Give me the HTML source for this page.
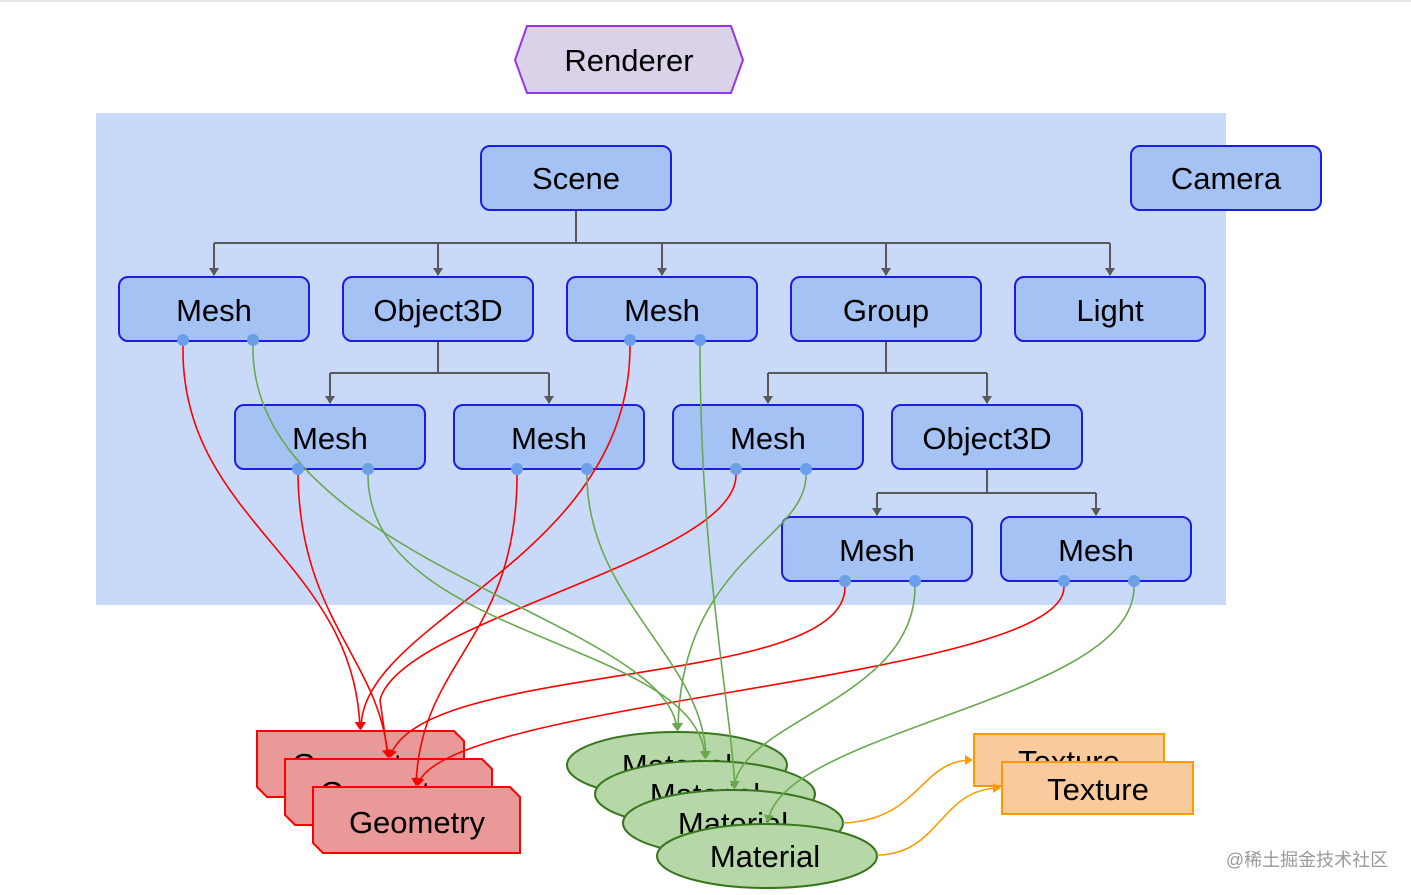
<!DOCTYPE html>
<html><head><meta charset="utf-8"><style>
html,body{margin:0;padding:0;background:#fff;}
svg{display:block;}
text{font-family:"Liberation Sans",Arial,sans-serif;font-size:31px;fill:#000;text-anchor:middle;}
.n{fill:#a4c2f4;stroke:#1c1ce6;stroke-width:2;}
.g{fill:none;stroke:#595959;stroke-width:2;}
.r{fill:none;stroke:#f00;stroke-width:1.6;}
.gr{fill:none;stroke:#6aa84f;stroke-width:1.6;}
.o{fill:none;stroke:#f90;stroke-width:1.6;}
.d{fill:#6d9eeb;}
</style></head><body>
<svg width="1411" height="895" viewBox="0 0 1411 895">
<defs>
<marker id="ag" markerWidth="8" markerHeight="10" refX="7" refY="5" orient="auto" markerUnits="userSpaceOnUse"><path d="M0,0 L8,5 L0,10z" fill="#595959"/></marker>
<marker id="ar" markerWidth="8" markerHeight="10" refX="7" refY="5" orient="auto" markerUnits="userSpaceOnUse"><path d="M0,0 L8,5 L0,10z" fill="#f00"/></marker>
<marker id="agr" markerWidth="8" markerHeight="10" refX="7" refY="5" orient="auto" markerUnits="userSpaceOnUse"><path d="M0,0 L8,5 L0,10z" fill="#6aa84f"/></marker>
<marker id="ao" markerWidth="8" markerHeight="10" refX="7" refY="5" orient="auto" markerUnits="userSpaceOnUse"><path d="M0,0 L8,5 L0,10z" fill="#f90"/></marker>
</defs>
<line x1="0" y1="1" x2="1411" y2="1" stroke="#ccc" stroke-width="1"/>
<polygon points="515,60 527,26 731,26 743,60 731,93 527,93" fill="#d9d2e9" stroke="#9933ee" stroke-width="2"/>
<text x="629" y="71">Renderer</text>
<rect x="96" y="113" width="1130" height="492" fill="#c9daf8"/>

<path class="g" d="M576,210 V243 M214,243 H1110 M438,341 V373 M330,373 H549 M886,341 V373 M768,373 H987 M987,469 V493 M877,493 H1096"/>
<g class="g" marker-end="url(#ag)">
<path d="M214,243 V275"/><path d="M438,243 V275"/><path d="M662,243 V275"/><path d="M886,243 V275"/><path d="M1110,243 V275"/>
<path d="M330,373 V403"/><path d="M549,373 V403"/><path d="M768,373 V403"/><path d="M987,373 V403"/>
<path d="M877,493 V515"/><path d="M1096,493 V515"/>
</g>

<rect class="n" x="481" y="146" width="190" height="64" rx="9"/><text x="576" y="189">Scene</text>
<rect class="n" x="1131" y="146" width="190" height="64" rx="9"/><text x="1226" y="189">Camera</text>
<rect class="n" x="119" y="277" width="190" height="64" rx="9"/><text x="214" y="321">Mesh</text>
<rect class="n" x="343" y="277" width="190" height="64" rx="9"/><text x="438" y="321">Object3D</text>
<rect class="n" x="567" y="277" width="190" height="64" rx="9"/><text x="662" y="321">Mesh</text>
<rect class="n" x="791" y="277" width="190" height="64" rx="9"/><text x="886" y="321">Group</text>
<rect class="n" x="1015" y="277" width="190" height="64" rx="9"/><text x="1110" y="321">Light</text>
<rect class="n" x="235" y="405" width="190" height="64" rx="9"/><text x="330" y="449">Mesh</text>
<rect class="n" x="454" y="405" width="190" height="64" rx="9"/><text x="549" y="449">Mesh</text>
<rect class="n" x="673" y="405" width="190" height="64" rx="9"/><text x="768" y="449">Mesh</text>
<rect class="n" x="892" y="405" width="190" height="64" rx="9"/><text x="987" y="449">Object3D</text>
<rect class="n" x="782" y="517" width="190" height="64" rx="9"/><text x="877" y="561">Mesh</text>
<rect class="n" x="1001" y="517" width="190" height="64" rx="9"/><text x="1096" y="561">Mesh</text>

<polygon points="257,731 454,731 464,741 464,797 267,797 257,787" fill="#ea9999" stroke="#f00" stroke-width="2"/>
<text x="360" y="775">Geometry</text>
<polygon points="285,759 482,759 492,769 492,825 295,825 285,815" fill="#ea9999" stroke="#f00" stroke-width="2"/>
<text x="388" y="803">Geometry</text>
<polygon points="313,787 510,787 520,797 520,853 323,853 313,843" fill="#ea9999" stroke="#f00" stroke-width="2"/>
<text x="417" y="833">Geometry</text>

<ellipse cx="677" cy="765" rx="110" ry="33" fill="#b6d7a8" stroke="#38761d" stroke-width="2"/>
<text x="677" y="776">Material</text>
<ellipse cx="705" cy="794" rx="110" ry="33" fill="#b6d7a8" stroke="#38761d" stroke-width="2"/>
<text x="705" y="805">Material</text>
<ellipse cx="733" cy="823" rx="110" ry="33" fill="#b6d7a8" stroke="#38761d" stroke-width="2"/>
<text x="733" y="834">Material</text>
<ellipse cx="767" cy="856" rx="110" ry="32" fill="#b6d7a8" stroke="#38761d" stroke-width="2"/>
<text x="765" y="867">Material</text>

<rect x="974" y="734" width="190" height="52" fill="#f9cb9c" stroke="#f90" stroke-width="2"/>
<text x="1069" y="772">Texture</text>
<rect x="1002" y="762" width="191" height="52" fill="#f9cb9c" stroke="#f90" stroke-width="2"/>
<text x="1098" y="800">Texture</text>

<g class="r" marker-end="url(#ar)">
<path d="M183,346 C180,520 355,560 360,729"/>
<path d="M298,475 C300,620 380,660 388,757"/>
<path d="M630,346 C630,560 360,620 361,729"/>
<path d="M517,475 C517,640 420,660 416,785"/>
<path d="M736,475 C736,560 400,620 380,700 L388,757"/>
<path d="M845,587 C845,690 420,660 390,757"/>
<path d="M1064,587 C1064,680 440,700 418,785"/>
</g>
<g class="gr" marker-end="url(#agr)">
<path d="M253,346 C250,560 670,620 677,730"/>
<path d="M368,475 C368,640 700,640 705,758"/>
<path d="M700,346 C700,560 730,700 735,788"/>
<path d="M587,475 C587,600 705,660 706,758"/>
<path d="M806,475 C806,540 680,560 678,730"/>
<path d="M915,587 C915,700 740,720 734,788"/>
<path d="M1134,587 C1134,700 780,730 768,822"/>
</g>
<g class="o" marker-end="url(#ao)">
<path d="M843,823 C920,820 920,760 972,760"/>
<path d="M877,855 C940,855 940,788 1000,788"/>
</g>

<g class="d">
<circle cx="183" cy="340" r="6"/><circle cx="253" cy="340" r="6"/>
<circle cx="630" cy="340" r="6"/><circle cx="700" cy="340" r="6"/>
<circle cx="298" cy="469" r="6"/><circle cx="368" cy="469" r="6"/>
<circle cx="517" cy="469" r="6"/><circle cx="587" cy="469" r="6"/>
<circle cx="736" cy="469" r="6"/><circle cx="806" cy="469" r="6"/>
<circle cx="845" cy="581" r="6"/><circle cx="915" cy="581" r="6"/>
<circle cx="1064" cy="581" r="6"/><circle cx="1134" cy="581" r="6"/>
</g>

<text x="1307" y="866" style="font-size:18px;fill:#999;font-family:'Liberation Sans','Noto Sans CJK SC',sans-serif;">@稀土掘金技术社区</text>
</svg>
</body></html>
